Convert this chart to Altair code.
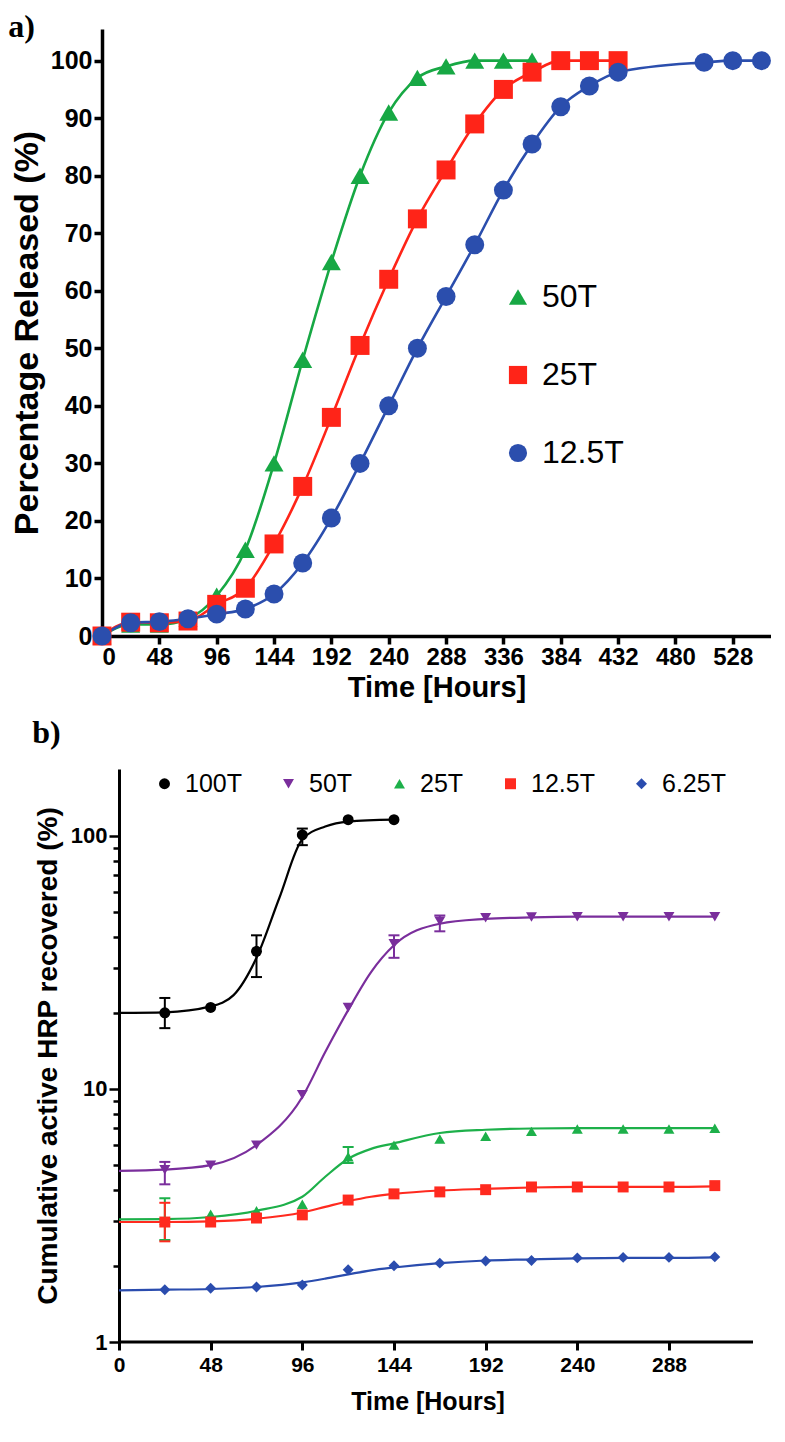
import altair as alt
import pandas as pd

# ---------------- Panel a data ----------------
a_series = ["50T", "25T", "12.5T"]
a_colors = ["#17a844", "#ff2418", "#2b4ead"]
a_shapes = ["triangle-up", "square", "circle"]

a_hours_50T = [0, 24, 48, 72, 96, 120, 144, 168, 192, 216, 240, 264, 288, 312, 336, 360]
a_pct_50T = [0, 2, 2, 3, 7, 15, 30, 48, 65, 80, 91, 97, 99, 100, 100, 100]

a_hours_25T = [0, 24, 48, 72, 96, 120, 144, 168, 192, 216, 240, 264, 288, 312, 336, 360, 384, 408, 432]
a_pct_25T = [0, 2.4, 2.3, 2.6, 5.5, 8.3, 16, 26, 38, 50.5, 62, 72.5, 81, 89, 95, 98, 100, 100, 100]

a_hours_12_5T = [0, 24, 48, 72, 96, 120, 144, 168, 192, 216, 240, 264, 288, 312, 336, 360, 384, 408, 432,
                 504, 528, 552]
a_pct_12_5T = [0, 2.3, 2.5, 3, 3.8, 4.7, 7.3, 12.7, 20.5, 30, 40, 50, 59, 68, 77.5, 85.5, 92, 95.6, 98,
               99.7, 100, 100]

a_xticks = [0, 48, 96, 144, 192, 240, 288, 336, 384, 432, 480, 528]
a_yticks = [0, 10, 20, 30, 40, 50, 60, 70, 80, 90, 100]

# ---------------- Panel b data ----------------
b_series = ["100T", "50T", "25T", "12.5T", "6.25T"]
b_colors = ["#000000", "#7a2e9c", "#1db04a", "#ff2a1f", "#2a4cae"]
b_shapes = ["circle", "triangle-down", "triangle-up", "square", "diamond"]

b_hours_100T = [24, 48, 72, 96, 120, 144]
b_val_100T = [20, 21, 35, 101, 116, 116]
b_hours = [24, 48, 72, 96, 120, 144, 168, 192, 216, 240, 264, 288, 312]
b_val_50T = [4.8, 5.0, 6.0, 9.5, 21, 37.5, 46, 47.5, 47.8, 48, 48, 48, 48]
b_val_25T = [3.03, 3.2, 3.3, 3.5, 5.4, 6.0, 6.35, 6.5, 6.8, 6.95, 6.95, 6.95, 7.0]
b_val_12_5T = [2.98, 2.98, 3.09, 3.18, 3.64, 3.85, 3.92, 4.0, 4.1, 4.1, 4.1, 4.1, 4.15]
b_val_6_25T = [1.61, 1.63, 1.65, 1.68, 1.93, 2.0, 2.05, 2.09, 2.1, 2.15, 2.16, 2.16, 2.17]

# fitted curves
fit_hours_100T = [0, 24, 48, 60, 72, 84, 96, 108, 120, 144]
fit_val_100T = [20, 20.1, 21.2, 23.5, 33, 57, 97, 109, 114, 116]
fit_hours = [0, 24, 48, 72, 96, 108, 120, 132, 144, 168, 192, 216, 240, 264, 288, 312]
fit_val_50T = [4.75, 4.8, 5.0, 6.0, 9.3, 14, 20.5, 29, 37, 45, 47, 47.7, 48, 48, 48, 48]
fit_val_25T = [3.05, 3.06, 3.12, 3.3, 3.75, 4.5, 5.3, 5.8, 6.1, 6.7, 6.9, 6.98, 7.0, 7.0, 7.0, 7.0]
fit_val_12_5T = [2.98, 2.98, 3.0, 3.07, 3.25, 3.42, 3.6, 3.75, 3.85, 3.97, 4.03, 4.08, 4.1, 4.1, 4.1, 4.12]
fit_val_6_25T = [1.6, 1.61, 1.62, 1.65, 1.72, 1.78, 1.85, 1.92, 1.97, 2.05, 2.1, 2.12, 2.14, 2.15, 2.15, 2.16]

# error bars
err_series = ["100T", "100T", "100T", "50T", "50T", "50T", "25T", "25T", "12.5T"]
err_hours = [24, 72, 96, 24, 144, 168, 24, 120, 24]
err_low = [17.4, 27.7, 92, 4.2, 33, 42, 2.53, 5.1, 2.5]
err_high = [22.9, 40.5, 107, 5.15, 40.5, 48.5, 3.7, 5.9, 3.55]

b_xticks = [0, 48, 96, 144, 192, 240, 288]
b_yticks = [1, 2, 3, 4, 5, 6, 7, 8, 9, 10, 20, 30, 40, 50, 60, 70, 80, 90, 100]
b_xmin, b_xmax = -8.9, 332

# ---------------- Frames ----------------
df_a = pd.concat([
    pd.DataFrame({"series": "50T", "hours": a_hours_50T, "pct": a_pct_50T}),
    pd.DataFrame({"series": "25T", "hours": a_hours_25T, "pct": a_pct_25T}),
    pd.DataFrame({"series": "12.5T", "hours": a_hours_12_5T, "pct": a_pct_12_5T}),
], ignore_index=True)

df_b = pd.concat([
    pd.DataFrame({"series": "100T", "hours": b_hours_100T, "val": b_val_100T}),
    pd.DataFrame({"series": "50T", "hours": b_hours, "val": b_val_50T}),
    pd.DataFrame({"series": "25T", "hours": b_hours, "val": b_val_25T}),
    pd.DataFrame({"series": "12.5T", "hours": b_hours, "val": b_val_12_5T}),
    pd.DataFrame({"series": "6.25T", "hours": b_hours, "val": b_val_6_25T}),
], ignore_index=True)

df_fit = pd.concat([
    pd.DataFrame({"series": "100T", "hours": fit_hours_100T, "val": fit_val_100T}),
    pd.DataFrame({"series": "50T", "hours": fit_hours, "val": fit_val_50T}),
    pd.DataFrame({"series": "25T", "hours": fit_hours, "val": fit_val_25T}),
    pd.DataFrame({"series": "12.5T", "hours": fit_hours, "val": fit_val_12_5T}),
    pd.DataFrame({"series": "6.25T", "hours": fit_hours, "val": fit_val_6_25T}),
], ignore_index=True)

df_err = pd.DataFrame({"series": err_series, "hours": err_hours, "low": err_low, "high": err_high})
df_caps = pd.concat([
    pd.DataFrame({"series": err_series, "hours": err_hours, "val": err_low}),
    pd.DataFrame({"series": err_series, "hours": err_hours, "val": err_high}),
], ignore_index=True)

BOLD = "Liberation Sans"

# ---------------- Panel a ----------------
xa = alt.X("hours:Q", scale=alt.Scale(domain=[0, 560], nice=False, zero=False),
           axis=alt.Axis(values=a_xticks, title="Time [Hours]", labelFont=BOLD, labelFontWeight="bold",
                         labelFontSize=24, titleFont=BOLD, titleFontWeight="bold", titleFontSize=29,
                         domainWidth=3.5, tickWidth=3.5, tickSize=8, labelPadding=1, titlePadding=4,
                         labelOverlap=False))
ya = alt.Y("pct:Q", scale=alt.Scale(domain=[0, 105.5], nice=False),
           axis=alt.Axis(values=a_yticks, title="Percentage Released (%)", labelFont=BOLD,
                         labelFontWeight="bold", labelFontSize=25, titleFont=BOLD, titleFontWeight="bold",
                         titleFontSize=34, domainWidth=3.5, tickWidth=3.5, tickSize=8, labelPadding=2,
                         titlePadding=6, labelOverlap=False))

legend_a = alt.Legend(title=None, orient="none", legendX=400, legendY=252, direction="vertical",
                      labelFont="Liberation Sans", labelFontSize=32, labelColor="black", symbolSize=330,
                      rowPadding=46, labelOffset=8, symbolStrokeWidth=0, symbolOpacity=1)

# the line scales list the same series in reverse order so that they stay separate from the legend
lines_a = alt.Chart(df_a).mark_line(strokeWidth=2.6, interpolate="monotone").encode(
    x=xa, y=ya,
    stroke=alt.Stroke("series:N", scale=alt.Scale(domain=a_series[::-1], range=a_colors[::-1]),
                      legend=None),
    detail="series:N")
points_a = alt.Chart(df_a).mark_point(filled=True, size=360, opacity=1).encode(
    x=xa, y=ya,
    color=alt.Color("series:N", scale=alt.Scale(domain=a_series, range=a_colors), legend=legend_a),
    shape=alt.Shape("series:N", scale=alt.Scale(domain=a_series, range=a_shapes), legend=legend_a))

panel_a = alt.layer(lines_a, points_a).properties(
    width=669, height=607,
    title=alt.TitleParams("a)", anchor="start", frame="bounds", font="Liberation Serif", fontSize=32,
                          fontWeight="bold", color="black", dx=-2, offset=-15))

# ---------------- Panel b ----------------
major = "datum.value == 1 || datum.value == 10 || datum.value == 100"
xb = alt.X("hours:Q", scale=alt.Scale(domain=[b_xmin, b_xmax], nice=False, zero=False),
           axis=alt.Axis(values=b_xticks, title="Time [Hours]", labelFont=BOLD, labelFontWeight="bold",
                         labelFontSize=21, titleFont=BOLD, titleFontWeight="bold", titleFontSize=25,
                         domain=False, tickWidth=3, tickSize=8, labelPadding=4, titlePadding=14,
                         labelOverlap=False))
yb = alt.Y("val:Q", scale=alt.Scale(type="log", domain=[1, 184], nice=False),
           axis=alt.Axis(values=b_yticks, title="Cumulative active HRP recovered (%)",
                         labelExpr="(" + major + ") ? format(datum.value, 'd') : ''",
                         labelFont=BOLD, labelFontWeight="bold", labelFontSize=22, titleFont=BOLD,
                         titleFontWeight="bold", titleFontSize=28, domainWidth=3, tickWidth=2.5,
                         tickSize={"condition": {"test": major, "value": 10}, "value": 6},
                         labelPadding=2, titlePadding=8, offset=-17, labelOverlap=False))

legend_b = alt.Legend(title=None, orient="none", legendX=50, legendY=2, direction="horizontal",
                      labelFont="Liberation Sans", labelFontSize=25, labelColor="black", symbolSize=120,
                      columnPadding=34, labelOffset=8, symbolStrokeWidth=0, symbolOpacity=1)

axis_line_b = alt.Chart(pd.DataFrame({"a": [0]})).mark_rule(color="black", strokeWidth=3).encode(
    x=alt.datum(0), x2=alt.datum(b_xmax), y=alt.datum(1))

stroke_b = alt.Stroke("series:N", scale=alt.Scale(domain=b_series[::-1], range=b_colors[::-1]),
                      legend=None)
lines_b = alt.Chart(df_fit).mark_line(strokeWidth=2.2, interpolate="monotone").encode(
    x=xb, y=yb, stroke=stroke_b, detail="series:N")
err_b = alt.Chart(df_err).mark_rule(strokeWidth=2).encode(
    x=alt.X("hours:Q"), y=alt.Y("low:Q"), y2="high:Q", stroke=stroke_b)
caps_b = alt.Chart(df_caps).mark_tick(orient="horizontal", size=11, thickness=2, opacity=1).encode(
    x=alt.X("hours:Q"), y=alt.Y("val:Q"),
    fill=alt.Fill("series:N", scale=alt.Scale(domain=b_series[1:] + b_series[:1],
                                               range=b_colors[1:] + b_colors[:1]), legend=None))
points_b = alt.Chart(df_b).mark_point(filled=True, size=120, opacity=1).encode(
    x=xb, y=yb,
    color=alt.Color("series:N", scale=alt.Scale(domain=b_series, range=b_colors), legend=legend_b),
    shape=alt.Shape("series:N", scale=alt.Scale(domain=b_series, range=b_shapes), legend=legend_b))

panel_b = alt.layer(lines_b, err_b, caps_b, points_b, axis_line_b).properties(
    width=651, height=573,
    title=alt.TitleParams("b)", anchor="start", frame="bounds", font="Liberation Serif", fontSize=32,
                          fontWeight="bold", color="black", dx=-2, offset=19))

chart = alt.vconcat(panel_a, panel_b, spacing=15).resolve_scale(
    color="independent", shape="independent", stroke="independent", fill="independent"
).resolve_legend(
    color="independent", shape="independent"
).properties(
    padding={"left": 0, "top": 3, "right": 0, "bottom": 0}
).configure_view(stroke=None).configure_axis(
    grid=False, domainColor="black", tickColor="black", labelColor="black", titleColor="black"
)

chart.save("out.html", embed_options={"renderer": "svg", "actions": False})
